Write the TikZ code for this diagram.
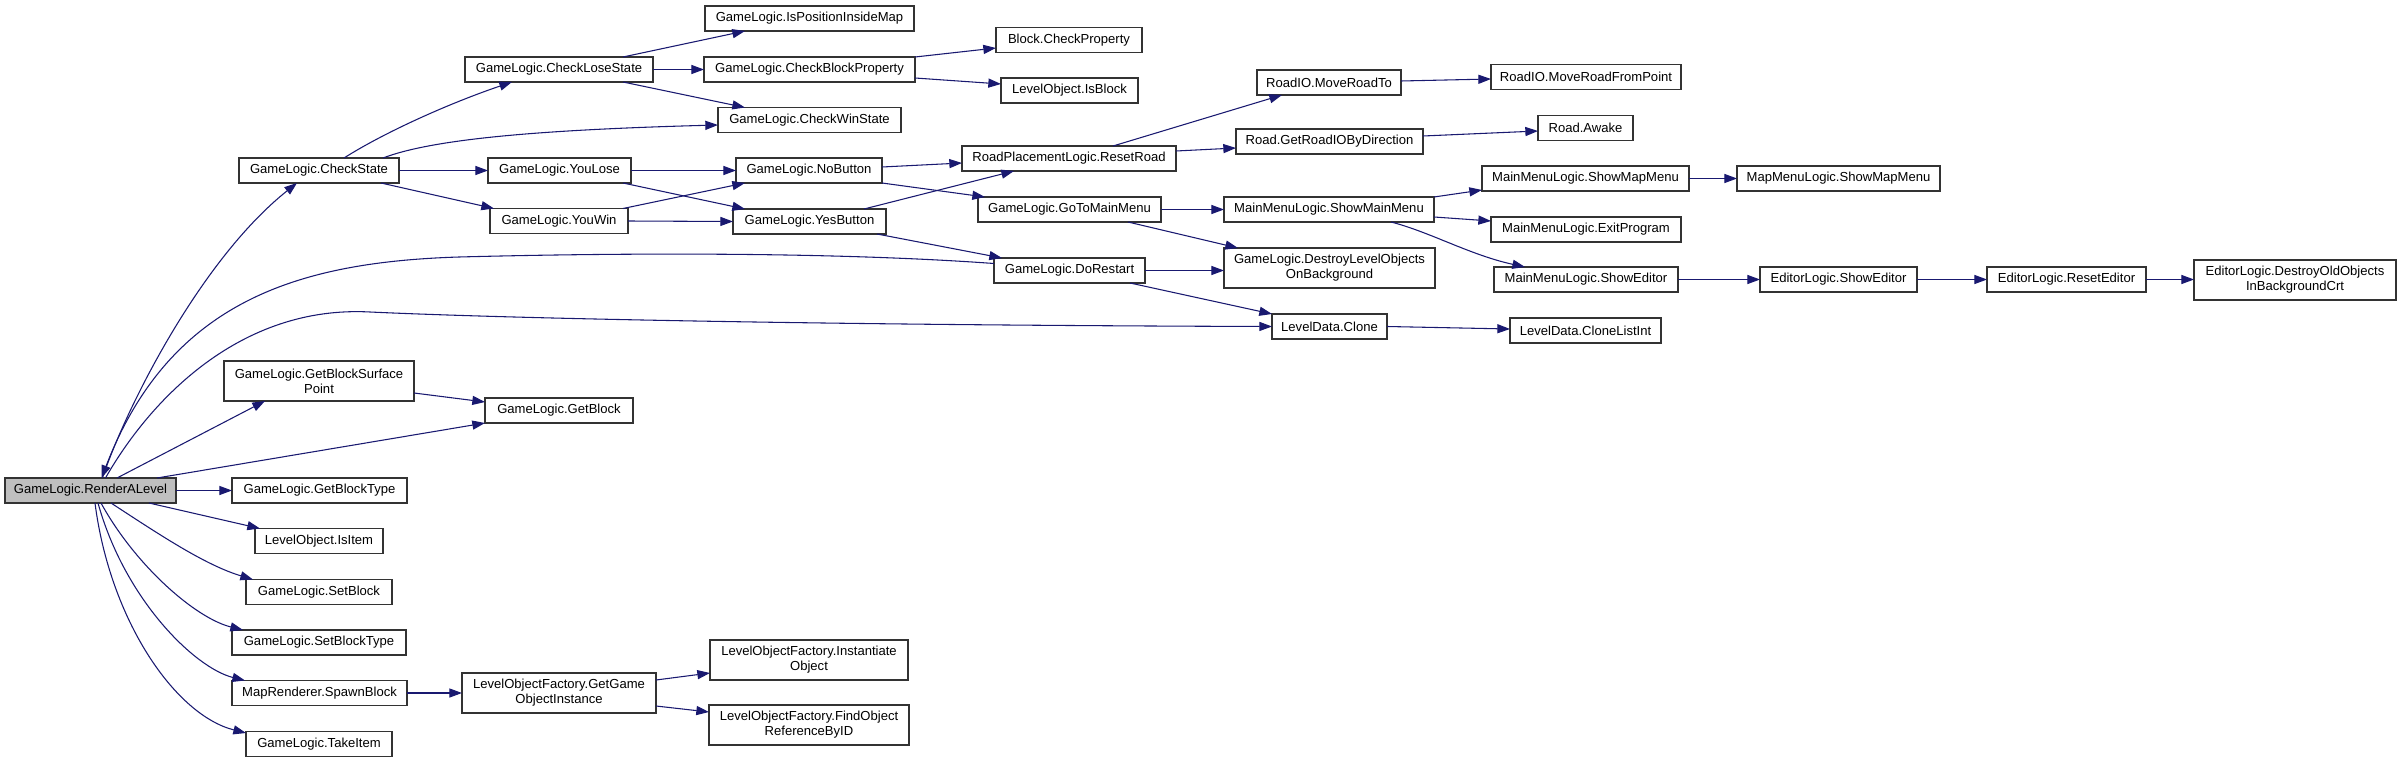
\documentclass[tikz,border=0pt]{standalone}
\usepackage{fontspec}
\setmainfont{Liberation Sans}
\usetikzlibrary{arrows.meta,calc}
\definecolor{edgeblue}{HTML}{191970}
\definecolor{rootfill}{HTML}{BFBFBF}
\definecolor{boxline}{HTML}{333333}
\tikzset{
  gbox/.style={draw=boxline, line width=0.9pt, fill=white, inner sep=0pt, outer sep=0pt,
    align=center, font=\fontsize{9.8}{11.3}\selectfont},
  rootbox/.style={fill=rootfill},
  cedge/.style={draw=edgeblue, line width=0.8pt, -{Triangle[length=9.5pt,width=6.8pt]}}
}
\newcommand\gn[7][]{\node[gbox,#1,minimum width={(#5-#3)*0.75pt},minimum height={(#6-#4)*0.75pt}] (#2) at ({(#3+#5)/2},{(#4+#6)/2}) {#7};}
\begin{document}
\begin{tikzpicture}[x=0.75pt,y=-0.75pt]
\useasboundingbox (0,0) rectangle (2401,763);
% nodes
\gn[rootbox]{RL}{5}{478}{176}{503}{GameLogic.RenderALevel}
\gn{CS}{239}{158}{399}{183}{GameLogic.CheckState}
\gn{CLS}{465}{57}{653}{82}{GameLogic.CheckLoseState}
\gn{YL}{488}{158}{631}{183}{GameLogic.YouLose}
\gn{YW}{490}{208.5}{628}{233.5}{GameLogic.YouWin}
\gn{IPIM}{705}{6}{914}{31}{GameLogic.IsPositionInsideMap}
\gn{CBP}{704}{57}{915}{82}{GameLogic.CheckBlockProperty}
\gn{BCP}{996}{27.5}{1142}{52.5}{Block.CheckProperty}
\gn{LOIB}{1001}{78}{1138}{103}{LevelObject.IsBlock}
\gn{CWS}{718}{107.5}{901}{132.5}{GameLogic.CheckWinState}
\gn{NB}{736}{158}{882}{183}{GameLogic.NoButton}
\gn{YB}{733}{209}{886}{234}{GameLogic.YesButton}
\gn{RR}{962}{146}{1176}{171}{RoadPlacementLogic.ResetRoad}
\gn{GTM}{978}{197}{1161}{222}{GameLogic.GoToMainMenu}
\gn{DR}{994}{258}{1145}{283}{GameLogic.DoRestart}
\gn{MRT}{1257}{70}{1401}{95}{RoadIO.MoveRoadTo}
\gn{MRFP}{1491}{64.5}{1681}{89.5}{RoadIO.MoveRoadFromPoint}
\gn{GRIO}{1236}{129}{1423}{154}{Road.GetRoadIOByDirection}
\gn{RA}{1538}{115.5}{1633}{140.5}{Road.Awake}
\gn{MMSMM}{1482}{166}{1689}{191}{MainMenuLogic.ShowMapMenu}
\gn{MAPMM}{1737}{166}{1940}{191}{MapMenuLogic.ShowMapMenu}
\gn{SMM}{1224}{197}{1434}{222}{MainMenuLogic.ShowMainMenu}
\gn{EXIT}{1491}{217}{1681}{242}{MainMenuLogic.ExitProgram}
\gn{DLOB}{1224}{248}{1435}{288}{GameLogic.DestroyLevelObjects\\OnBackground}
\gn{MMSE}{1494}{267}{1678}{292}{MainMenuLogic.ShowEditor}
\gn{ELSE}{1760}{267}{1917}{292}{EditorLogic.ShowEditor}
\gn{RE}{1987}{267}{2146}{292}{EditorLogic.ResetEditor}
\gn{DOOB}{2194}{260}{2396}{300}{EditorLogic.DestroyOldObjects\\InBackgroundCrt}
\gn{LDC}{1272}{314}{1387}{339}{LevelData.Clone}
\gn{CLI}{1510}{318}{1661}{343}{LevelData.CloneListInt}
\gn{GBSP}{224}{361}{414}{401}{GameLogic.GetBlockSurface\\Point}
\gn{GB}{485}{398}{633}{423}{GameLogic.GetBlock}
\gn{GBT}{232}{478}{407}{503}{GameLogic.GetBlockType}
\gn{II}{255}{528.5}{383}{553.5}{LevelObject.IsItem}
\gn{SB}{246}{579.5}{392}{604.5}{GameLogic.SetBlock}
\gn{SBT}{232}{630}{406}{655}{GameLogic.SetBlockType}
\gn{SPB}{232}{680.5}{407}{705.5}{MapRenderer.SpawnBlock}
\gn{GGOI}{462}{673}{656}{713}{LevelObjectFactory.GetGame\\ObjectInstance}
\gn{TI}{246}{731.5}{392}{756.5}{GameLogic.TakeItem}
\gn{IO}{710}{640}{908}{680}{LevelObjectFactory.Instantiate\\Object}
\gn{FOR}{709}{705}{909}{745}{LevelObjectFactory.FindObject\\ReferenceByID}
% edges from RenderALevel
\draw[cedge] ($(RL.north)+(12,0)$) .. controls (125,410) and (200,260) .. ($(CS.south)+(-22,0)$);
\draw[cedge] ($(DR.west)+(0,-7)$) .. controls (850,253) and (650,252) .. (459,257) .. controls (300,262) and (170,300) .. ($(RL.north)+(11,0)$);
\draw[cedge] ($(RL.north)+(15,0)$) .. controls (150,400) and (240,305) .. (370,312) .. controls (500,318) and (800,325) .. (LDC.west);
\draw[cedge] ($(RL.north)+(26.5,0)$) -- ($(GBSP.south)+(-54,0)$);
\draw[cedge] ($(RL.north)+(66.5,0)$) -- (GB.south west);
\draw[cedge] ($(GBSP.east)+(0,12)$) -- ($(GB.west)+(0,-8.5)$);
\draw[cedge] (RL.east) -- (GBT.west);
\draw[cedge] ($(RL.south)+(58.5,0)$) -- ($(II.north west)+(5,0)$);
\draw[cedge] ($(RL.south)+(20.5,0)$) .. controls (160,535) and (205,565) .. ($(SB.north west)+(7,0)$);
\draw[cedge] ($(RL.south)+(10.5,0)$) .. controls (135,565) and (195,618) .. ($(SBT.north west)+(11,0)$);
\draw[cedge] ($(RL.south)+(7.5,0)$) .. controls (125,600) and (195,668) .. ($(SPB.north west)+(13,0)$);
\draw[cedge] ($(RL.south)+(4.5,0)$) .. controls (110,620) and (175,715) .. ($(TI.west)+(0,-11)$);
\draw[cedge] (SPB.east) -- (GGOI.west);
\draw[cedge] ($(GGOI.east)+(0,-13)$) -- ($(IO.west)+(0,13)$);
\draw[cedge] ($(GGOI.east)+(0,13)$) -- ($(FOR.west)+(0,-13)$);
% CheckState subtree
\draw[cedge] ($(CS.north)+(25,0)$) .. controls (385,132) and (450,103) .. ($(CLS.south)+(-47,0)$);
\draw[cedge] ($(CS.north)+(64,0)$) .. controls (430,140) and (530,130) .. ($(CWS.west)+(0,5)$);
\draw[cedge] (CS.east) -- (YL.west);
\draw[cedge] ($(CS.south)+(62,0)$) -- ($(YW.north west)+(4,0)$);
\draw[cedge] ($(CLS.north)+(64,0)$) -- ($(IPIM.south)+(-64.5,0)$);
\draw[cedge] (CLS.east) -- (CBP.west);
\draw[cedge] ($(CLS.south)+(64,0)$) -- ($(CWS.north)+(-64.5,0)$);
\draw[cedge] (CBP.north east) -- ($(BCP.west)+(0,8)$);
\draw[cedge] ($(CBP.east)+(0,8.5)$) -- ($(LOIB.west)+(0,-6.5)$);
\draw[cedge] (YL.east) -- (NB.west);
\draw[cedge] ($(YL.south)+(63.5,0)$) -- ($(YB.north)+(-64.5,0)$);
\draw[cedge] ($(YW.north)+(64,0)$) -- ($(NB.south)+(-64,0)$);
\draw[cedge] (YW.east) -- (YB.west);
\draw[cedge] ($(NB.east)+(0,-3.5)$) -- ($(RR.west)+(0,4.5)$);
\draw[cedge] (NB.south east) -- ($(GTM.north west)+(7,0)$);
\draw[cedge] ($(YB.north)+(54.5,0)$) -- ($(RR.south)+(-55,0)$);
\draw[cedge] ($(YB.south)+(67.5,0)$) -- ($(DR.north west)+(8,0)$);
\draw[cedge] ($(RR.north)+(44,0)$) -- ($(MRT.south)+(-47,0)$);
\draw[cedge] ($(RR.east)+(0,-7.5)$) -- ($(GRIO.west)+(0,6.5)$);
\draw[cedge] ($(MRT.east)+(0,-1.5)$) -- ($(MRFP.west)+(0,2)$);
\draw[cedge] ($(GRIO.east)+(0,-5.5)$) -- ($(RA.west)+(0,3)$);
\draw[cedge] (GTM.east) -- (SMM.west);
\draw[cedge] ($(GTM.south)+(58.5,0)$) -- ($(DLOB.north west)+(14,0)$);
\draw[cedge] (DR.east) -- (DLOB.west |- DR.east);
\draw[cedge] ($(DR.south)+(60.5,0)$) -- (LDC.north west);
\draw[cedge] (SMM.north east) -- ($(MMSMM.west)+(0,11.5)$);
\draw[cedge] ($(SMM.east)+(0,7.5)$) -- ($(EXIT.west)+(0,-8.5)$);
\draw[cedge] ($(SMM.south)+(62,0)$) .. controls (1430,232) and (1470,255) .. ($(MMSE.north west)+(31,0)$);
\draw[cedge] (MMSMM.east) -- (MAPMM.west);
\draw[cedge] (MMSE.east) -- (ELSE.west);
\draw[cedge] (ELSE.east) -- (RE.west);
\draw[cedge] (RE.east) -- (DOOB.west |- RE.east);
\draw[cedge] (LDC.east) -- ($(CLI.west)+(0,-1.5)$);
\end{tikzpicture}
\end{document}
